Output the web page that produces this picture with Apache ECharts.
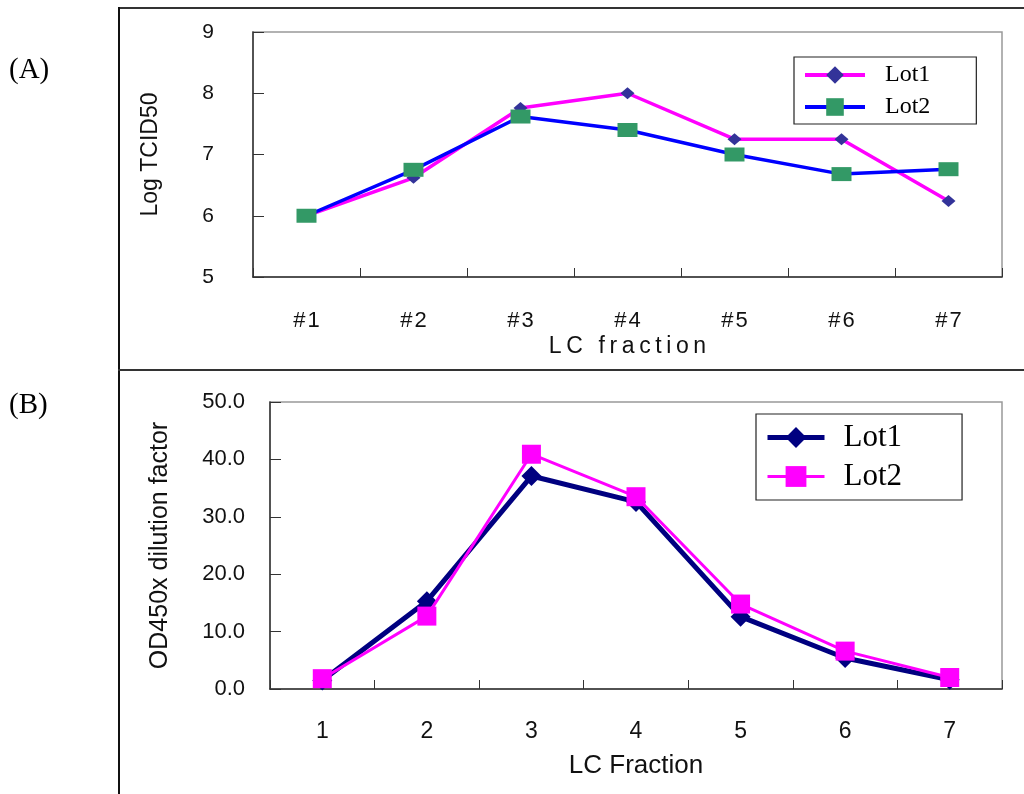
<!DOCTYPE html>
<html><head><meta charset="utf-8">
<script src="https://cdn.jsdelivr.net/npm/echarts@6/dist/echarts.min.js"></script>
<style>html,body{margin:0;padding:0;background:#fff}#c{width:1024px;height:794px}</style>
</head><body><div id="c"></div>
<script>
// Panel A data
const categoriesA = ['#1','#2','#3','#4','#5','#6','#7'];
const lot1A = [6.0, 6.62, 7.76, 8.0, 7.25, 7.25, 6.24];
const lot2A = [6.0, 6.75, 7.62, 7.4, 7.0, 6.68, 6.76];
const yTicksA = {min: 5, max: 9, interval: 1};
// Panel B data
const categoriesB = ['1','2','3','4','5','6','7'];
const lot1B = [1.5, 15.3, 37.1, 32.6, 12.6, 5.4, 1.6];
const lot2B = [1.8, 12.7, 40.9, 33.5, 14.8, 6.6, 2.0];
const yTicksB = {min: 0, max: 50, interval: 10};

const sans = 'Liberation Sans';
const serif = 'Liberation Serif';
const chart = echarts.init(document.getElementById('c'), null, {renderer: 'canvas'});

function catAxis(idx, data, name, nameGap, fs, nfs, margin, fmt) {
  return {
    type: 'category', gridIndex: idx, data: data, boundaryGap: true,
    axisLine: {show: true, lineStyle: {color: '#333', width: 1.5}},
    axisTick: {show: true, inside: true, length: 9, alignWithLabel: false, lineStyle: {color: '#333', width: 1}},
    axisLabel: {color: '#111', fontFamily: sans, fontSize: fs, margin: margin, formatter: fmt},
    name: name, nameLocation: 'middle', nameGap: nameGap,
    nameTextStyle: {color: '#111', fontFamily: sans, fontSize: nfs},
    splitLine: {show: false}
  };
}
function valAxis(idx, t, name, nameGap, fs, nfs, margin, fmt) {
  return {
    type: 'value', gridIndex: idx, min: t.min, max: t.max, interval: t.interval,
    axisLine: {show: true, lineStyle: {color: '#333', width: 1.5}},
    axisTick: {show: true, inside: true, length: 11, lineStyle: {color: '#333', width: 1}},
    axisLabel: {color: '#111', fontFamily: sans, fontSize: fs, margin: margin, formatter: fmt},
    name: name, nameLocation: 'middle', nameGap: nameGap, nameRotate: 90,
    nameTextStyle: {color: '#111', fontFamily: sans, fontSize: nfs},
    splitLine: {show: false}
  };
}

const T = '\u2009';
const nameA = ['L', 'C'].join(T) + T + ' ' + T + 'fraction'.split('').join(T);

const option = {
  animation: false,
  backgroundColor: '#fff',
  grid: [
    {left: 253, top: 32, width: 749, height: 245, show: true, borderColor: '#999', borderWidth: 1.5, containLabel: false},
    {left: 270, top: 402, width: 732, height: 287, show: true, borderColor: '#999', borderWidth: 1.5, containLabel: false}
  ],
  xAxis: [
    catAxis(0, categoriesA, nameA, 58, 22, 23, 33, v => v.split('').join('\u200A')),
    catAxis(1, categoriesB, 'LC Fraction', 64, 23, 26, 31)
  ],
  yAxis: [
    valAxis(0, yTicksA, 'Log TCID50', 91, 21, 23, 39),
    valAxis(1, yTicksB, 'OD450x dilution factor', 97, 22, 25, 25, v => v.toFixed(1))
  ],
  legend: [
    {
      data: [
        {name: 'Lot1', lineStyle: {width: 4, color: '#FF00FF'}},
        {name: 'Lot2', lineStyle: {width: 4, color: '#0000FF'}}
      ],
      orient: 'vertical', left: 794, top: 57,
      padding: [6, 46, 5, 9], itemGap: 8, itemWidth: 60, itemHeight: 22,
      borderColor: '#222', borderWidth: 1.2, backgroundColor: '#fff',
      textStyle: {fontFamily: serif, fontSize: 24, color: '#000', padding: [0, 0, 0, 15]}
    },
    {
      data: [
        {name: 'Lot1 (B)', lineStyle: {width: 5, color: '#000080'}},
        {name: 'Lot2 (B)', lineStyle: {width: 3, color: '#FF00FF'}}
      ],
      orient: 'vertical', left: 756, top: 414,
      padding: [8, 60, 8, 9], itemGap: 8, itemWidth: 57, itemHeight: 26,
      borderColor: '#222', borderWidth: 1.2, backgroundColor: '#fff',
      formatter: n => n.replace(' (B)', ''),
      textStyle: {fontFamily: serif, fontSize: 31, color: '#000', padding: [0, 0, 0, 14]}
    }
  ],
  series: [
    {name: 'Lot1', type: 'line', xAxisIndex: 0, yAxisIndex: 0, data: lot1A,
     symbol: 'diamond', symbolSize: [14, 12],
     lineStyle: {color: '#FF00FF', width: 3.5}, itemStyle: {color: '#333399', borderWidth: 0}, z: 3},
    {name: 'Lot2', type: 'line', xAxisIndex: 0, yAxisIndex: 0, data: lot2A,
     symbol: 'rect', symbolSize: [20, 14],
     lineStyle: {color: '#0000FF', width: 3.5}, itemStyle: {color: '#339966', borderWidth: 0}, z: 4},
    {name: 'Lot1 (B)', type: 'line', xAxisIndex: 1, yAxisIndex: 1, data: lot1B,
     symbol: 'diamond', symbolSize: [20, 20],
     lineStyle: {color: '#000080', width: 5}, itemStyle: {color: '#000080', borderWidth: 0}, z: 3},
    {name: 'Lot2 (B)', type: 'line', xAxisIndex: 1, yAxisIndex: 1, data: lot2B,
     symbol: 'rect', symbolSize: [19, 19],
     lineStyle: {color: '#FF00FF', width: 3}, itemStyle: {color: '#FF00FF', borderWidth: 0}, z: 4}
  ],
  graphic: [
    {type: 'line', shape: {x1: 118, y1: 8, x2: 1024, y2: 8}, style: {stroke: '#333', lineWidth: 2}},
    {type: 'line', shape: {x1: 119, y1: 7, x2: 119, y2: 794}, style: {stroke: '#111', lineWidth: 2}},
    {type: 'line', shape: {x1: 118, y1: 370, x2: 1024, y2: 370}, style: {stroke: '#333', lineWidth: 2}},
    {type: 'text', left: 9, top: 56, style: {text: '(A)', font: '29px "Liberation Serif"', fill: '#000'}},
    {type: 'text', left: 9, top: 391, style: {text: '(B)', font: '29px "Liberation Serif"', fill: '#000'}}
  ]
};
chart.setOption(option);
</script></body></html>
